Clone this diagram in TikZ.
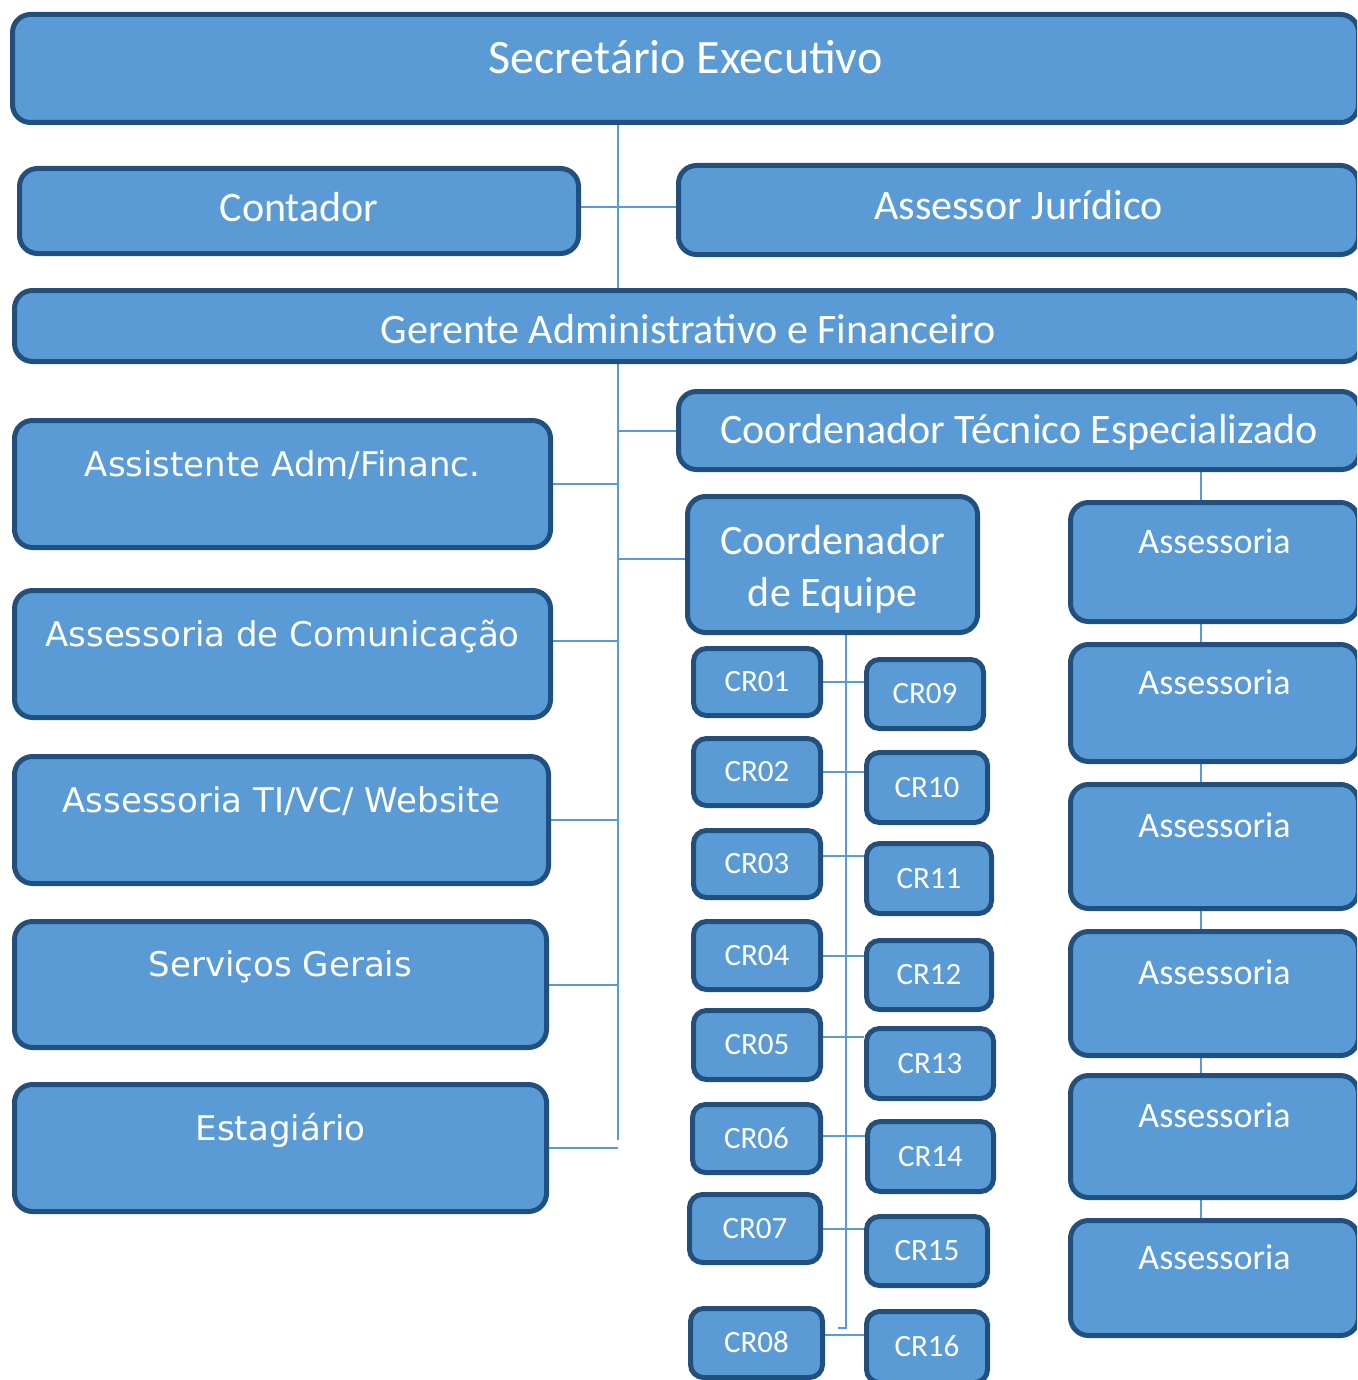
\documentclass[tikz,border=0pt]{standalone}
\usepackage{fontspec}
\setmainfont{Carlito}
\newfontfamily\verd{DejaVu Sans}
\usepackage{tikz}
\usetikzlibrary{backgrounds}
\definecolor{boxfill}{HTML}{5B9BD5}
\definecolor{boxline}{HTML}{21507E}
\definecolor{linkcol}{HTML}{5B9BD5}
\tikzset{every picture/.style={line width=0.75pt}}
\tikzset{
  box/.style={draw=boxline, fill=boxfill, line width=5pt, rounded corners=18pt,
    inner sep=0pt, text=white},
  sz/.style 2 args={minimum width=#1, minimum height=#2},
  link/.style={draw=linkcol, line width=2pt},
  titlef/.style={font=\fontsize{48}{58}\selectfont, text height=30pt, text depth=20pt},
  headf/.style={font=\fontsize{42}{52}\selectfont, text height=26.5pt, text depth=0pt},
  asf/.style={font=\fontsize{36}{44}\selectfont, text height=22.8pt, text depth=40pt},
  crf/.style={font=\fontsize{31}{38}\selectfont, text height=19.6pt, text depth=0pt, rounded corners=13pt},
  sidef/.style={font=\verd\fontsize{34}{41}\selectfont, text height=24.8pt, text depth=40pt},
}

\begin{document}
\begin{tikzpicture}[x=1pt,y=-1pt]
\useasboundingbox (0,0) rectangle (1357,1380);
\clip (0,0) rectangle (1357,1380);
\node[box,titlef,sz={1346}{108}] (sec) at (685.5,68.5) {Secretário Executivo};
\node[box,headf,sz={559}{85},text depth=6pt] (cont) at (299,211) {Contador};
\node[box,headf,sz={680}{89},text depth=8pt] (asj) at (1018.5,210) {Assessor Jurídico};
\node[box,headf,sz={1347}{71},text height=34.5pt] (ger) at (688,326) {Gerente Administrativo e Financeiro};
\node[box,headf,sz={681}{78}] (cte) at (1019,430.5) {Coordenador Técnico Especializado};
%
\node[box,sidef,sz={536}{127}] (ast) at (282.5,484) {Assistente Adm/Financ.};
\node[box,sidef,sz={536}{127}] (com) at (282.5,654) {Assessoria de Comunicação};
\node[box,sidef,sz={534}{127}] (tiv) at (281.5,820) {Assessoria TI/VC/ Website};
\node[box,sidef,sz={532}{126}] (ser) at (280.5,984.5) {Serviços Gerais};
\node[box,sidef,sz={532}{127}] (est) at (280.5,1148) {Estagiário};
%
\node[box,headf,text height=,text depth=,align=center,sz={290}{136}] (ceq) at (832.5,564.5) {\rule{0pt}{38pt}Coordenador\\de Equipe};
%
\node[box,crf,sz={127}{67}] (cr01) at (757,682) {CR01};
\node[box,crf,sz={127}{67}] (cr02) at (757,772) {CR02};
\node[box,crf,sz={127}{67}] (cr03) at (757,864) {CR03};
\node[box,crf,sz={127}{68}] (cr04) at (757,955.5) {CR04};
\node[box,crf,sz={127}{69}] (cr05) at (757,1045) {CR05};
\node[box,crf,sz={128}{68}] (cr06) at (756.5,1138.5) {CR06};
\node[box,crf,sz={131}{68}] (cr07) at (755,1228.5) {CR07};
\node[box,crf,sz={132}{69}] (cr08) at (756.5,1343) {CR08};
%
\node[box,crf,sz={117}{69}] (cr09) at (925,694) {CR09};
\node[box,crf,sz={121}{70}] (cr10) at (927,787.5) {CR10};
\node[box,crf,sz={125}{70}] (cr11) at (929,878.5) {CR11};
\node[box,crf,sz={125}{69}] (cr12) at (929,975) {CR12};
\node[box,crf,sz={127}{70}] (cr13) at (930,1063.5) {CR13};
\node[box,crf,sz={126}{70}] (cr14) at (930.5,1156.5) {CR14};
\node[box,crf,sz={121}{69}] (cr15) at (927,1251) {CR15};
\node[box,crf,sz={121}{71}] (cr16) at (927,1347) {CR16};
%
\node[box,asf,sz={288}{119}] (as1) at (1214.5,562) {Assessoria};
\node[box,asf,sz={288}{117}] (as2) at (1214.5,703) {Assessoria};
\node[box,asf,sz={288}{124}] (as3) at (1214.5,846.5) {Assessoria};
\node[box,asf,sz={288}{124}] (as4) at (1214.5,993.5) {Assessoria};
\node[box,asf,sz={288}{122}] (as5) at (1214.5,1136.5) {Assessoria};
\node[box,asf,sz={288}{115}] (as6) at (1214.5,1278) {Assessoria};
%
\coordinate (trunk) at (618,1140);
\coordinate (crend) at (846,1328);
\coordinate (crhook) at (838,1328);
\coordinate (asx) at (1201,0);
\begin{scope}[on background layer]
\draw[link] (sec.south -| trunk) -- (trunk);
\draw[link] ([yshift=4pt]cont.east) -- ([yshift=4pt]cont.east -| asj.west);
\draw[link] (trunk |- cte.west) -- (cte.west);
\draw[link] ([yshift=6pt]ceq.west) -- ([yshift=6pt]ceq.west -| trunk);
\draw[link] (ast.east) -- (ast.east -| trunk);
\draw[link] ([yshift=13pt]com.east) -- ([yshift=13pt]com.east -| trunk);
\draw[link] (tiv.east) -- (tiv.east -| trunk);
\draw[link] (ser.east) -- (ser.east -| trunk);
\draw[link] (est.east) -- (est.east -| trunk);
%
\draw[link] (ceq.south -| crend) -- (crend) -- (crhook);
\draw[link] (cr01.east) -- (cr01.east -| cr09.west);
\draw[link] (cr02.east) -- (cr02.east -| cr10.west);
\draw[link] ([yshift=8pt]cr03.east) -- ([yshift=8pt]cr03.east -| cr11.west);
\draw[link] (cr04.east) -- (cr04.east -| cr12.west);
\draw[link] ([yshift=8pt]cr05.east) -- ([yshift=8pt]cr05.east -| cr13.west);
\draw[link] ([yshift=3pt]cr06.east) -- ([yshift=3pt]cr06.east -| cr14.west);
\draw[link] (cr07.east) -- (cr07.east -| cr15.west);
\draw[link] ([yshift=8pt]cr08.east) -- ([yshift=8pt]cr08.east -| cr16.west);
%
\draw[link] (cte.south -| asx) -- (as6.north -| asx);
\end{scope}
\end{tikzpicture}
\end{document}
